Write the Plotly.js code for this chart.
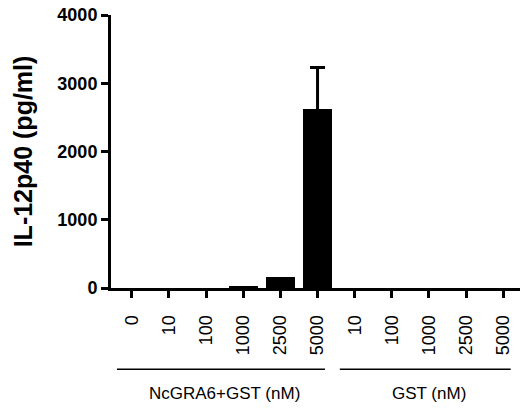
<!DOCTYPE html>
<html>
<head>
<meta charset="utf-8">
<script src="https://cdn.plot.ly/plotly-3.0.1.min.js"></script>
<style>html,body{margin:0;padding:0;background:#fff;}#chart{width:521px;height:408px;}</style>
</head>
<body>
<div id="chart"></div>
<script>
// Data
const tickLabels = ["0","10","100","1000","2500","5000","10","100","1000","2500","5000"];
const values = [4, 3, 4, 30, 165, 2620, 3, 3, 3, 3, 3];
const errors = [null, null, null, null, null, 610, null, null, null, null, null];
const groupNames = ["NcGRA6+GST (nM)", "GST (nM)"];
const groupSpans = [[0, 5], [6, 10]];
const yTicks = [0, 1000, 2000, 3000, 4000];

const xPos = tickLabels.map((_, i) => i);
const errIdx = xPos.filter(i => errors[i] !== null);

const FONT = "Liberation Sans, Arial, sans-serif";

// Error bars drawn first (symmetric; the lower half is hidden behind the black bar)
const errTrace = {
  type: "scatter",
  mode: "none",
  x: errIdx,
  y: errIdx.map(i => values[i]),
  error_y: {type: "data", array: errIdx.map(i => errors[i]), symmetric: true,
            color: "#000", thickness: 3, width: 7.5, visible: true},
  hoverinfo: "skip"
};

const bars = {
  type: "bar",
  x: xPos,
  y: values,
  width: 0.77,
  marker: {color: "#000", line: {width: 0}},
  hoverinfo: "skip"
};

const shapes = [];
const annotations = [];
groupSpans.forEach((s, i) => {
  shapes.push({type: "line", xref: "x", yref: "paper",
    x0: s[0] - 0.4, x1: s[1] + 0.2, y0: -0.298, y1: -0.298,
    line: {color: "#000", width: 1.5}});
  annotations.push({xref: "x", yref: "paper", x: (s[0] + s[1]) / 2, y: -0.385,
    text: groupNames[i], showarrow: false, xanchor: "center", yanchor: "middle",
    font: {family: FONT, size: 17, color: "#000"}});
});

const layout = {
  width: 521, height: 408,
  margin: {l: 111, r: 1, t: 15, b: 119.5, pad: 0},
  paper_bgcolor: "#fff", plot_bgcolor: "#fff",
  showlegend: false,
  bargap: 0,
  xaxis: {
    range: [-0.56, 10.45],
    tickmode: "array", tickvals: xPos, ticktext: tickLabels,
    tickangle: -90,
    ticklabelstandoff: 10,
    showgrid: false, zeroline: false,
    showline: true, linecolor: "#000", linewidth: 3,
    ticks: "outside", ticklen: 7, tickwidth: 3, tickcolor: "#000",
    tickfont: {family: FONT, size: 18, color: "#000"},
    fixedrange: true
  },
  yaxis: {
    range: [0, 4000],
    tickmode: "array", tickvals: yTicks,
    showgrid: false, zeroline: false,
    showline: true, linecolor: "#000", linewidth: 3,
    ticks: "outside", ticklen: 7, tickwidth: 3, tickcolor: "#000",
    tickfont: {family: FONT, size: 18, color: "#000", weight: "bold"},
    title: {text: "<b>IL-12p40 (pg/ml)</b>", standoff: 18,
            font: {family: FONT, size: 25, color: "#000"}},
    fixedrange: true
  },
  shapes: shapes,
  annotations: annotations
};

Plotly.newPlot("chart", [errTrace, bars], layout, {displayModeBar: false, staticPlot: true});
</script>
</body>
</html>
